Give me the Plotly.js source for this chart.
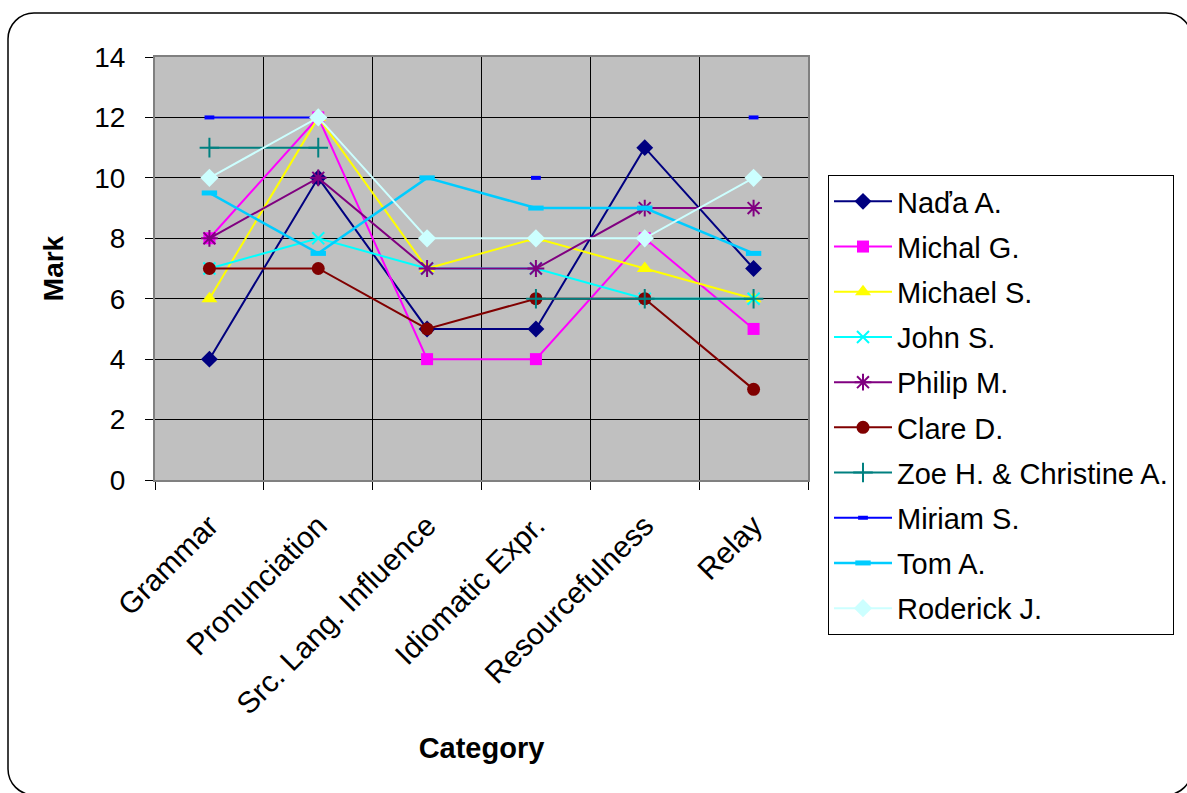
<!DOCTYPE html>
<html>
<head>
<meta charset="utf-8">
<script src="https://cdn.plot.ly/plotly-3.0.1.min.js"></script>
<style>
  html, body { margin: 0; padding: 0; background: #fff; }
  #chart { width: 1187px; height: 793px; }
</style>
</head>
<body>
<div id="chart"></div>
<script>
// Assessment categories and the marks each interpreter received (null = not marked)
const categories = ["Grammar", "Pronunciation", "Src. Lang. Influence", "Idiomatic Expr.", "Resourcefulness", "Relay"];

const nadaA      = [4, 10, 5, 5, 11, 7];
const michalG    = [8, 12, 4, 4, 8, 5];
const michaelS   = [6, 12, 7, 8, 7, 6];
const johnS      = [7, 8, 7, 7, 6, 6];
const philipM    = [8, 10, 7, 7, 9, 9];
const clareD     = [7, 7, 5, 6, 6, 3];
const zoeChristA = [11, 11, null, 6, 6, 6];
const miriamS    = [12, 12, null, 10, null, 12];
const tomA       = [9.5, 7.5, 10, 9, 9, 7.5];
const roderickJ  = [10, 12, 8, 8, 8, 10];

const yTicks = [0, 2, 4, 6, 8, 10, 12, 14];

// Page geometry (pixels)
const W = 1187, H = 793;
const M = { l: 155, r: 379, t: 57, b: 313 };
const PW = W - M.l - M.r, PH = H - M.t - M.b;
const px = x => (x - M.l) / PW;
const py = y => (H - M.b - y) / PH;

function series(name, y, color, symbol, size, opts) {
  opts = opts || {};
  return {
    type: "scatter",
    mode: "lines+markers",
    name: name,
    legendgroup: name,
    x: categories,
    y: y,
    connectgaps: false,
    line: { color: color, width: opts.lw || 2 },
    marker: {
      symbol: symbol,
      size: size,
      color: color,
      line: { color: color, width: opts.mlw !== undefined ? opts.mlw : 0 }
    },
    hoverinfo: "x+y+name"
  };
}

const traces = [
  series("Naďa A.", nadaA, "#000080", "diamond", 13),
  series("Michal G.", michalG, "#FF00FF", "square", 12),
  series("Michael S.", michaelS, "#FFFF00", "triangle-up", 14),
  series("John S.", johnS, "#00FFFF", "x-thin-open", 12, { mlw: 2 }),
  series("Philip M.", philipM, "#800080", "asterisk-open", 14, { mlw: 2 }),
  series("Clare D.", clareD, "#800000", "circle", 13),
  series("Zoe H. & Christine A.", zoeChristA, "#008080", "cross-thin-open", 14, { mlw: 2 }),
  series("Miriam S.", miriamS, "#0000FF", "line-ew-open", 7, { mlw: 4 }),
  series("Tom A.", tomA, "#00CCFF", "line-ew-open", 11, { mlw: 5, lw: 2.5 }),
  series("Roderick J.", roderickJ, "#CCFFFF", "diamond", 14)
];

// Rounded frame around the whole chart
function roundedRect(x0, y0, x1, y1, r) {
  const k = 0.5523 * r;
  const p = (x, y) => px(x).toFixed(5) + "," + py(y).toFixed(5);
  return [
    "M", p(x0 + r, y0),
    "L", p(x1 - r, y0),
    "C", p(x1 - r + k, y0), p(x1, y0 + r - k), p(x1, y0 + r),
    "L", p(x1, y1 - r),
    "C", p(x1, y1 - r + k), p(x1 - r + k, y1), p(x1 - r, y1),
    "L", p(x0 + r, y1),
    "C", p(x0 + r - k, y1), p(x0, y1 - r + k), p(x0, y1 - r),
    "L", p(x0, y0 + r),
    "C", p(x0, y0 + r - k), p(x0 + r - k, y0), p(x0 + r, y0),
    "Z"
  ].join(" ");
}

const font = "Liberation Sans, Arial, sans-serif";

const layout = {
  width: W,
  height: H,
  margin: M,
  paper_bgcolor: "#FFFFFF",
  plot_bgcolor: "#C0C0C0",
  font: { family: font, size: 28, color: "#000000" },
  showlegend: true,
  legend: {
    x: px(828), y: py(175), xanchor: "left", yanchor: "top",
    bgcolor: "#FFFFFF", bordercolor: "#000000", borderwidth: 1,
    font: { family: font, size: 29, color: "#000000" },
    tracegroupgap: 4.5,
    itemwidth: 58,
    maxheight: 700,
    traceorder: "grouped"
  },
  xaxis: {
    type: "category",
    range: [-0.5, categories.length - 0.5],
    tickson: "boundaries",
    ticks: "outside", ticklen: 8, tickcolor: "#000000", tickwidth: 1,
    tickangle: -45,
    ticklabelstandoff: 14,
    tickfont: { family: font, size: 30 },
    showgrid: true, gridcolor: "#000000", gridwidth: 1,
    showline: true, linecolor: "#808080", linewidth: 2, mirror: true,
    zeroline: false,
    automargin: false,
    title: { text: "<b>Category</b>", font: { family: font, size: 29 }, standoff: 18 }
  },
  yaxis: {
    range: [0, 14],
    tickvals: yTicks,
    ticktext: yTicks.map(String),
    ticks: "outside", ticklen: 8, tickcolor: "#000000", tickwidth: 1,
    ticklabelstandoff: 14,
    tickfont: { family: font, size: 28 },
    showgrid: true, gridcolor: "#000000", gridwidth: 1,
    showline: true, linecolor: "#808080", linewidth: 2, mirror: true,
    zeroline: false,
    automargin: false,
    title: { text: "<b>Mark</b>", font: { family: font, size: 28 }, standoff: 22 }
  },
  shapes: [
    {
      type: "path", xref: "paper", yref: "paper", layer: "above",
      path: roundedRect(8, 13, 1192, 795, 26),
      line: { color: "#000000", width: 1.5 },
      fillcolor: "rgba(0,0,0,0)"
    }
  ]
};

Plotly.newPlot("chart", traces, layout, { displayModeBar: false, staticPlot: true });
</script>
</body>
</html>
